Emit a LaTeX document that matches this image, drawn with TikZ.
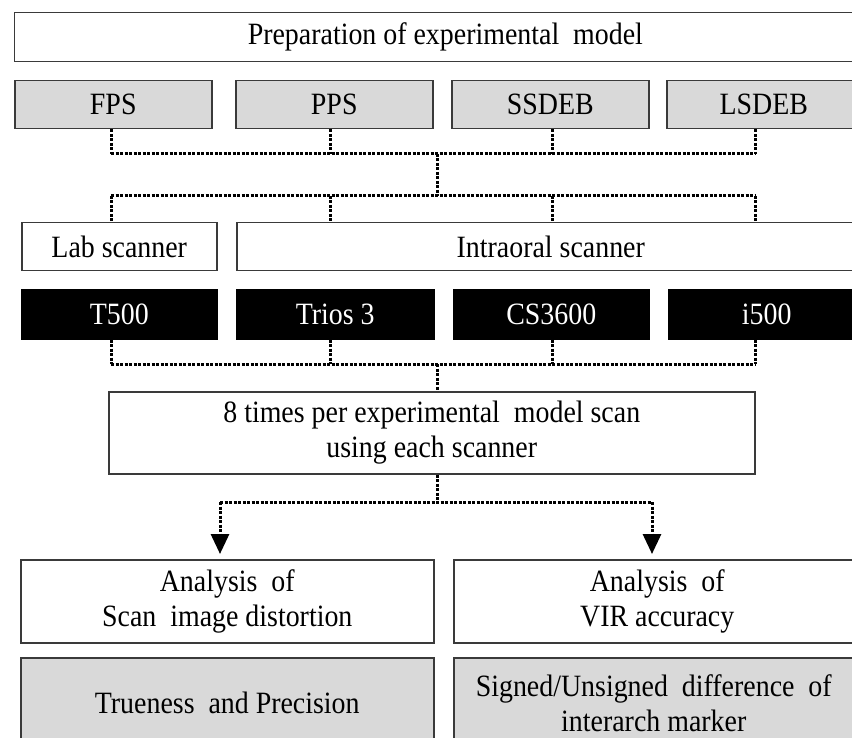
\documentclass[tikz,border=0pt]{standalone}
\usepackage{fontspec}
\setmainfont{Liberation Serif}[FakeStretch=0.9]
\usetikzlibrary{arrows.meta}
\definecolor{boxgray}{HTML}{D9D9D9}
\definecolor{edge}{HTML}{3A3A3A}
\tikzset{
  box/.style={draw=edge, line width=1.5pt, inner sep=0pt, anchor=north west,
    align=center, font=\fontsize{31}{35}\selectfont, text=black},
  graybox/.style={box, fill=boxgray},
  whitebox/.style={box, fill=white},
  blackbox/.style={box, fill=black, draw=black, text=white},
  dots/.style={line width=3pt, dash pattern=on 3pt off 1.5pt, black},
  arr/.style={dots, -{Triangle[width=18pt,length=20pt]}, shorten >=5pt}
}
\begin{document}
\begin{tikzpicture}[x=1pt,y=-1pt]
\clip (0,0) rectangle (852,738);
\fill[white] (0,0) rectangle (852,738);

% rows
\node[whitebox, minimum width=862pt, minimum height=49pt] (prep) at (13.6,12) {Preparation of experimental\ \ model};

\node[graybox, minimum width=197pt, minimum height=48pt] (fps) at (14,80) {FPS};
\node[graybox, minimum width=197pt, minimum height=48pt] (pps) at (235,80) {PPS};
\node[graybox, minimum width=197pt, minimum height=48pt] (ssdeb) at (451,80) {SSDEB};
\node[graybox, minimum width=194pt, minimum height=48pt] (lsdeb) at (666,80) {LSDEB};

\node[whitebox, minimum width=195pt, minimum height=48pt] (lab) at (21,222) {Lab scanner};
\node[whitebox, minimum width=628pt, minimum height=48pt] (intra) at (236,222) {Intraoral scanner};

\node[blackbox, minimum width=195pt, minimum height=49pt] (t500) at (21,289) {T500};
\node[blackbox, minimum width=197pt, minimum height=49pt] (trios) at (236,289) {Trios 3};
\node[blackbox, minimum width=195pt, minimum height=49pt] (cs) at (453,289) {CS3600};
\node[blackbox, minimum width=196pt, minimum height=49pt] (i500) at (668,289) {i500};

\node[whitebox, minimum width=646pt, minimum height=82pt] (times) at (108,391) {8 times per experimental\ \ model scan\\using each scanner};

\node[whitebox, minimum width=413pt, minimum height=83pt] (anaL) at (20,559) {Analysis\ \ of\\Scan\ \ image distortion};
\node[whitebox, minimum width=407pt, minimum height=83pt] (anaR) at (453,559) {Analysis\ \ of\\VIR accuracy};

\node[graybox, minimum width=413pt, minimum height=90pt] (trueL) at (20,657) {Trueness\ \ and Precision};
\node[graybox, minimum width=400pt, minimum height=90pt] (signR) at (453,657) {Signed/Unsigned\ \ difference\ \ of\\interarch marker};

% connector coordinates
\coordinate (x1) at (111,0);
\coordinate (x2) at (330,0);
\coordinate (x3) at (552,0);
\coordinate (x4) at (755,0);
\coordinate (xc) at (437,0);
\coordinate (xl) at (220,0);
\coordinate (xr) at (652,0);
\coordinate (h1) at (0,154);
\coordinate (h2) at (0,196);
\coordinate (h3) at (0,364);
\coordinate (h4) at (0,502);

% samples -> scanners
\draw[dots] (fps.south -| x1) -- (x1 |- h1);
\draw[dots] (pps.south -| x2) -- (x2 |- h1);
\draw[dots] (ssdeb.south -| x3) -- (x3 |- h1);
\draw[dots] (lsdeb.south -| x4) -- (x4 |- h1);
\draw[dots] (x1 |- h1) -- (x4 |- h1);
\draw[dots] (xc |- h1) -- (xc |- h2);
\draw[dots] (x1 |- h2) -- (x4 |- h2);
\draw[dots] (x1 |- h2) -- (lab.north -| x1);
\draw[dots] (x2 |- h2) -- (intra.north -| x2);
\draw[dots] (x3 |- h2) -- (intra.north -| x3);
\draw[dots] (x4 |- h2) -- (intra.north -| x4);

% scanners -> scan box
\draw[dots] (t500.south -| x1) -- (x1 |- h3);
\draw[dots] (trios.south -| x2) -- (x2 |- h3);
\draw[dots] (cs.south -| x3) -- (x3 |- h3);
\draw[dots] (i500.south -| x4) -- (x4 |- h3);
\draw[dots] (x1 |- h3) -- (x4 |- h3);
\draw[dots] (xc |- h3) -- (times.north -| xc);

% scan box -> analyses
\draw[dots] (times.south -| xc) -- (xc |- h4);
\draw[dots] (xl |- h4) -- (xr |- h4);
\draw[arr] (xl |- h4) -- (anaL.north -| xl);
\draw[arr] (xr |- h4) -- (anaR.north -| xr);
\end{tikzpicture}
\end{document}
